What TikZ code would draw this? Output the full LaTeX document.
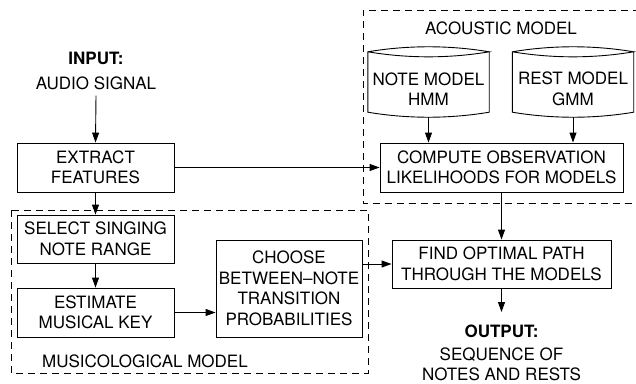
\documentclass[tikz,border=0pt]{standalone}
\usepackage{fontspec}
\setmainfont{TeX Gyre Heros}
\usetikzlibrary{arrows.meta,calc}
\begin{document}
\begin{tikzpicture}[x=1pt,y=-1pt,
  every node/.style={font=\fontsize{17}{20.5}\selectfont, inner sep=0pt},
  box/.style={draw, line width=0.9pt, align=center, inner sep=0pt},
  txt/.style={align=center},
  arr/.style={line width=0.9pt, -{Triangle[length=10pt,width=7pt]}},
  grp/.style={line width=0.9pt, dash pattern=on 7pt off 5pt},
  cyl/.style={draw=none, minimum width=121pt, minimum height=70pt}]
\useasboundingbox (0,0) rectangle (636,383);

% groups
\draw[grp] (640,10) -- (363,10) -- (363,203.5) -- (640,203.5);
\draw[grp] (11,210) rectangle (368,373);
\node[anchor=base] (acl) at (501,34) {ACOUSTIC MODEL};
\node[anchor=base west] (mcl) at (42,367) {MUSICOLOGICAL MODEL};

% input / output
\node[anchor=base] (inl) at (96,64) {\bfseries INPUT:};
\node[anchor=base, inner sep=6pt] (audio) at (96,89) {AUDIO SIGNAL};
\node[anchor=base] (outl) at (501.5,337) {\bfseries OUTPUT:};
\node[anchor=base, txt] (outt) at (501.5,360) {SEQUENCE OF};
\node[anchor=base, txt] (outt2) at (501.5,380) {NOTES AND RESTS};
\coordinate (outtop) at (501.5,312);

% boxes
\node[box, minimum width=157pt, minimum height=49pt] (extract) at (95.5,167.5) {EXTRACT\\FEATURES};
\node[box, minimum width=157pt, minimum height=48pt] (select) at (95.5,239) {SELECT SINGING\\NOTE RANGE};
\node[box, minimum width=157pt, minimum height=49pt] (estimate) at (95.5,312.5) {ESTIMATE\\MUSICAL KEY};
\node[box, minimum width=146pt, minimum height=97pt] (choose) at (289,288.5) {CHOOSE\\BETWEEN--NOTE\\TRANSITION\\PROBABILITIES};
\node[box, minimum width=243pt, minimum height=49pt] (compute) at (501.5,167.5) {COMPUTE OBSERVATION\\LIKELIHOODS FOR MODELS};
\node[box, minimum width=219pt, minimum height=48pt] (find) at (501.5,264) {FIND OPTIMAL PATH\\THROUGH THE MODELS};

% cylinders
\node[cyl] (notem) at (428.5,82) {};
\node[cyl] (restm) at (573,82) {};
\foreach \c in {notem,restm}{
  \draw[line width=0.9pt]
    ($(\c.north west)+(0,5)$) .. controls ($(\c.north west)+(40,-1.7)$) and ($(\c.north east)+(-40,-1.7)$) .. ($(\c.north east)+(0,5)$)
    .. controls ($(\c.north east)+(-40,11.7)$) and ($(\c.north west)+(40,11.7)$) .. ($(\c.north west)+(0,5)$)
    -- ($(\c.south west)+(0,-5)$)
    .. controls ($(\c.south west)+(40,1.7)$) and ($(\c.south east)+(-40,1.7)$) .. ($(\c.south east)+(0,-5)$)
    -- ($(\c.north east)+(0,5)$);
}
\node[txt] (notet) at (428.5,89) {NOTE MODEL\\HMM};
\node[txt] (restt) at (573,89) {REST MODEL\\GMM};

% connectors
\draw[arr] (audio.south) -- (extract.north);
\draw[arr] (extract.east) -- (compute.west);
\draw[arr] (extract.south) -- (select.north);
\draw[arr] (select.south) -- (estimate.north);
\draw[arr] (estimate.east) -- (estimate.east -| choose.west);
\draw[arr] (find.west -| choose.east) -- (find.west);
\draw[arr] (notem.south) -- (notem.south |- compute.north);
\draw[arr] (restm.south) -- (restm.south |- compute.north);
\draw[arr] (compute.south) -- (find.north);
\draw[arr] (find.south) -- (outtop);
\end{tikzpicture}
\end{document}
